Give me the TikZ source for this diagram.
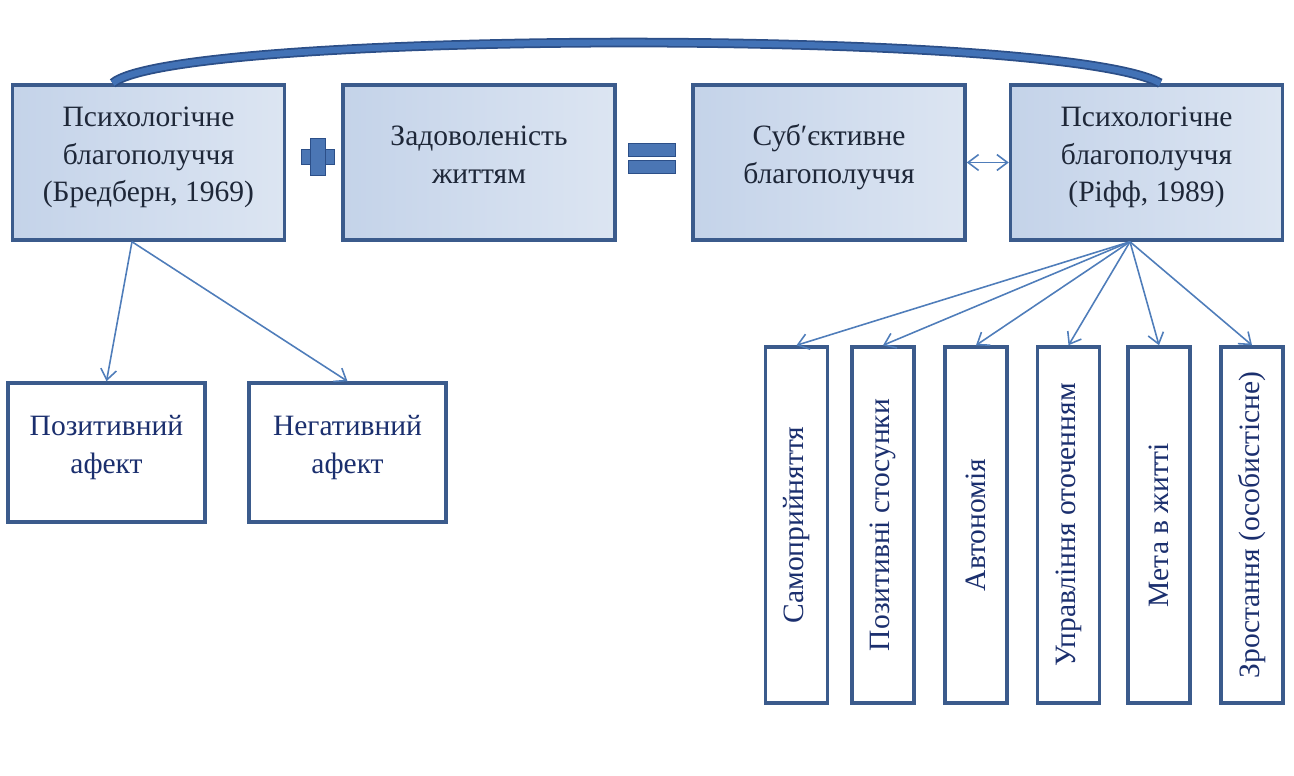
\documentclass[tikz,border=0pt]{standalone}
\usepackage{fontspec}
\setmainfont{Liberation Serif}
\usetikzlibrary{arrows.meta,calc}
\definecolor{boxline}{HTML}{3B5B8C}
\definecolor{boxfillL}{HTML}{C4D3E9}
\definecolor{boxfillR}{HTML}{DCE5F2}
\definecolor{txtdark}{HTML}{1E2738}
\definecolor{txtnavy}{HTML}{1B2F6E}
\definecolor{linkblue}{HTML}{4F7DBA}
\definecolor{arcblue}{HTML}{4272B6}
\definecolor{arcedge}{HTML}{2C4F88}
\definecolor{signblue}{HTML}{4B76B4}
% text block lifted a little above the box centre
\newcommand{\boxtext}[1]{\raisebox{-1pt}[0pt][0pt]{\begin{tabular}{@{}c@{}}#1\end{tabular}}}

\begin{document}
\begin{tikzpicture}[x=0.02cm, y=-0.02cm,
    font=\fontsize{16.8}{21.5}\selectfont,
    topbox/.style={draw=boxline, line width=2pt, left color=boxfillL, right color=boxfillR,
      minimum width=5.44cm, minimum height=3.1cm, text=txtdark},
    lowbox/.style={draw=boxline, line width=2pt, fill=white,
      minimum width=3.94cm, minimum height=2.78cm, text=txtnavy},
    factor/.style={draw=boxline, line width=2pt, fill=white, rotate=90,
      minimum width=7.12cm, minimum height=1.24cm, text=txtnavy, inner sep=1pt},
    link/.style={draw=linkblue, line width=0.9pt, -{Straight Barb[length=6pt,width=9pt]}},
    sign/.style={fill=signblue, draw=arcedge, line width=0.5pt}]
    \useasboundingbox (0,0) rectangle (1294,776);

    % top row
    \node[topbox] (b1) at (148.5,162.5) {\boxtext{Психологічне\\благополуччя\\(Бредберн, 1969)}};
    \node[topbox] (b2) at (479,162.5) {\boxtext{Задоволеність\\життям}};
    \node[topbox] (b3) at (829,162.5) {\boxtext{Суб\char"2032єктивне\\благополуччя}};
    \node[topbox] (b4) at (1146.5,162.5) {\boxtext{Психологічне\\благополуччя\\(Ріфф, 1989)}};

    % plus and equals
    \filldraw[sign] (301,149) rectangle (334,164);
    \filldraw[sign] (310,138) rectangle (325,175);
    \filldraw[sign] (628,143) rectangle (675,156);
    \filldraw[sign] (628,160) rectangle (675,173);

    \draw[link, {Straight Barb[length=6pt,width=9pt]}-{Straight Barb[length=6pt,width=9pt]}] (b3.east) -- (b4.west);

    % arc over the top
    \coordinate (arcL) at ($(b1.north west)!0.37!(b1.north east)$);
    \coordinate (arcR) at ($(b4.north west)!0.55!(b4.north east)$);
    \draw[arcedge, line width=5.5pt] (arcL) .. controls (175,30) and (1060,28) .. (arcR);
    \draw[arcblue, line width=3.5pt] (arcL) .. controls (175,30) and (1060,28) .. (arcR);

    % Bradburn
    \node[lowbox] (pa) at (106.5,452.5) {\boxtext{Позитивний\\афект}};
    \node[lowbox] (na) at (347.5,452.5) {\boxtext{Негативний\\афект}};
    \coordinate (bf) at ($(b1.south west)!0.44!(b1.south east)$);
    \draw[link] (bf) -- (pa.north);
    \draw[link] (bf) -- (na.north);

    % Ryff
    \coordinate (rf) at ($(b4.south west)!0.44!(b4.south east)$);
    \foreach \n/\x/\txt in {1/796.5/Самоприйняття, 2/883/Позитивні стосунки,
      3/976/Автономія, 4/1068.5/Управління оточенням, 5/1159/Мета в житті,
      6/1252/Зростання (особистісне)}{
      \node[factor] (f\n) at (\x,525) {\txt};
      \draw[link] (rf) -- (f\n.east);
    }
\end{tikzpicture}
\end{document}
